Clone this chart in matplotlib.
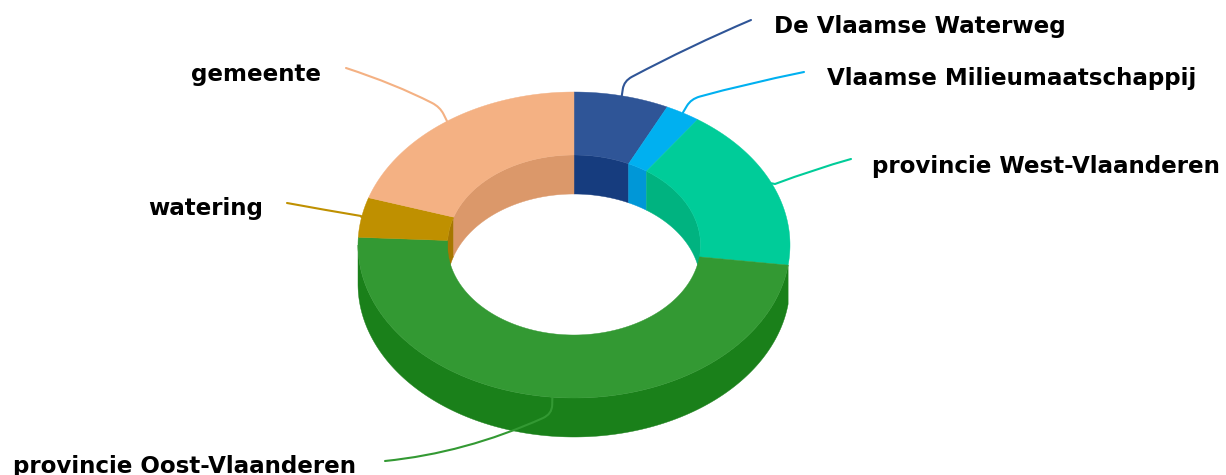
import numpy as np
import matplotlib
matplotlib.use("Agg")
import matplotlib.pyplot as plt
from matplotlib.patches import Polygon, PathPatch
from matplotlib.path import Path
from matplotlib.font_manager import FontProperties

categories = ["De Vlaamse Waterweg", "Vlaamse Milieumaatschappij", "provincie West-Vlaanderen",
              "provincie Oost-Vlaanderen", "watering", "gemeente"]
values = [7.1, 2.6, 17.4, 48.7, 4.2, 20.0]
top_colors = ["#2F5597", "#00B0F0", "#00CC99", "#339933", "#BF9000", "#F4B183"]
side_colors = ["#163C7E", "#0097D7", "#00B380", "#1A801A", "#A67700", "#DB986A"]

CX, CY, RX, RY, IRX, IRY, DEPTH = 574, 245, 216, 153, 126.5, 90, 39

label_pos = [(774, 26, "left"), (827, 78, "left"), (872, 166, "left"),
             (356, 466, "right"), (263, 209, "right"), (321, 74, "right")]
conn_end = [(751, 20), (804, 72), (851, 159), (385, 461), (287, 203), (346, 68)]
conn_elbow = [(624, 81), (691, 99), (775, 184), (552, 414), (361, 216), (440, 107)]
conn_ctrl = [(690, 46), (745, 84), (815, 169), (465, 453), (325, 210), (395, 84)]
elbow_round = [(8, 9), (8, 9), (0, 0), (9, 10), (0, 0), (8, 9)]


def pt(theta, rx, ry, dy=0):
    t = np.radians(theta)
    return np.column_stack([CX + rx * np.sin(t), CY - ry * np.cos(t) + dy])


def arc(a, b):
    return np.linspace(a, b, max(8, int(abs(b - a) * 6)))


fig = plt.figure(figsize=(12.26, 4.75), dpi=100)
ax = fig.add_axes([0, 0, 1, 1])
ax.set_xlim(0, 1226)
ax.set_ylim(475, 0)
ax.axis("off")

edges = np.concatenate([[0], np.cumsum(values)]) / sum(values) * 360

for i in range(len(values)):
    a, b = edges[i], edges[i + 1]
    for lo, hi in [(0, 90), (270, 360)]:
        s, e = max(a, lo), min(b, hi)
        if e > s:
            th = arc(s, e)
            poly = np.vstack([pt(th, IRX, IRY), pt(th[::-1], IRX, IRY, DEPTH)])
            ax.add_patch(Polygon(poly, closed=True, fc=side_colors[i], ec=side_colors[i], lw=0.3, zorder=1))

for i in range(len(values)):
    if edges[i] < 90:
        continue
    s, e = max(edges[i], 90), min(edges[i + 1], 270)
    if e > s:
        th = arc(s, e)
        poly = np.vstack([pt(th, RX, RY), pt(th[::-1], RX, RY, DEPTH)])
        ax.add_patch(Polygon(poly, closed=True, fc=side_colors[i], ec=side_colors[i], lw=0.3, zorder=2))

for i in range(len(values)):
    th = arc(edges[i], edges[i + 1])
    poly = np.vstack([pt(th, RX, RY), pt(th[::-1], IRX, IRY)])
    ax.add_patch(Polygon(poly, closed=True, fc=top_colors[i], ec=top_colors[i], lw=0.3, zorder=3))

bold = FontProperties(family="DejaVu Sans", weight="bold", size=16.6)
for i, name in enumerate(categories):
    mid = (edges[i] + edges[i + 1]) / 2
    start = pt(np.array([mid]), RX, RY)[0]
    if i == 3:
        start = start + np.array([-2, 0])
    elbow = np.array(conn_elbow[i], float)
    ctrl = np.array(conn_ctrl[i], float)
    end = np.array(conn_end[i], float)
    r1, r2 = elbow_round[i]
    u1 = (start - elbow) / np.linalg.norm(start - elbow)
    u2 = (ctrl - elbow) / np.linalg.norm(ctrl - elbow)
    p1 = elbow + u1 * r1
    p2 = elbow + u2 * r2
    verts = [start, p1, elbow, p2, ctrl, end]
    codes = [Path.MOVETO, Path.LINETO, Path.CURVE3, Path.CURVE3, Path.CURVE3, Path.CURVE3]
    ax.add_patch(PathPatch(Path(verts, codes), fc="none", ec=top_colors[i], lw=1.5, zorder=4,
                           capstyle="round", joinstyle="round"))
    x, y, ha = label_pos[i]
    ax.text(x, y, name, ha=ha, va="center", fontproperties=bold, color="black", zorder=5)

fig.savefig("out.png", dpi=100)
